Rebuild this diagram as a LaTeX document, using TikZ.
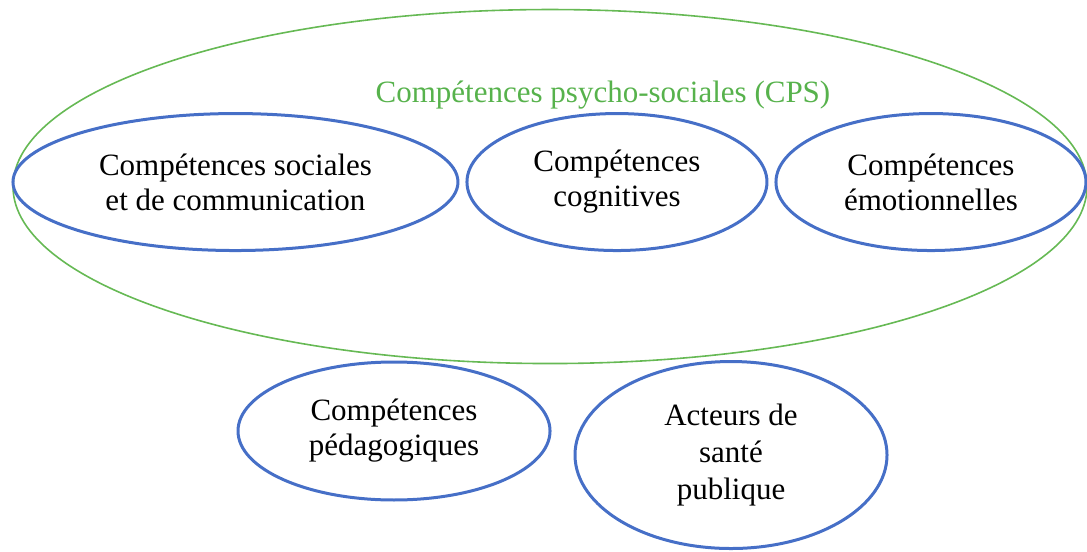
\documentclass[tikz,border=0pt]{standalone}
\usepackage{fontspec}
\setmainfont{Liberation Serif}
\usepackage{tikz}
\usepackage{color}
\usetikzlibrary{shapes.geometric}

\begin{document}
\begin{tikzpicture}[
  comp/.style={shape=ellipse,draw=cv,line width=1.5pt,inner sep=0pt,align=center,text=clv,
    font=\fontsize{15.5}{17.5}\selectfont},
  cpsring/.style={shape=ellipse,draw=ccps,line width=0.8pt,inner sep=0pt}]
\definecolor{cv}{rgb}{0.275,0.435,0.780}
\definecolor{clv}{rgb}{0.0,0.0,0.0}
\definecolor{ccps}{rgb}{0.400,0.725,0.330}
\definecolor{clcps}{rgb}{0.340,0.700,0.300}
%
\useasboundingbox (0,0) rectangle (19.102cm,9.683cm);
%
\node[cpsring,minimum width=18.873cm,minimum height=6.221cm] (cps) at (9.665cm,6.405cm) {};
\node[anchor=base,text=clcps,font=\fontsize{15.5}{17.5}\selectfont] (cpstitle) at (10.596cm,7.890cm) {Compétences psycho-sociales (CPS)};
%
\node[comp,minimum width=7.820cm,minimum height=2.407cm] (soc) at (4.138cm,6.484cm) {Compétences sociales\\et de communication};
\node[comp,minimum width=5.272cm,minimum height=2.407cm] (cog) at (10.842cm,6.484cm) {Compétences\\cognitives};
\node[comp,minimum width=5.448cm,minimum height=2.407cm] (emo) at (16.360cm,6.484cm) {Compétences\\émotionnelles};
\node[comp,minimum width=5.483cm,minimum height=2.425cm] (ped) at (6.924cm,2.109cm) {Compétences\\pédagogiques};
\node[comp,minimum width=5.483cm,minimum height=3.286cm,font=\fontsize{15.5}{18.5}\selectfont] (sante) at (12.846cm,1.687cm) {Acteurs de\\santé\\publique};
%
\end{tikzpicture}
\end{document}
